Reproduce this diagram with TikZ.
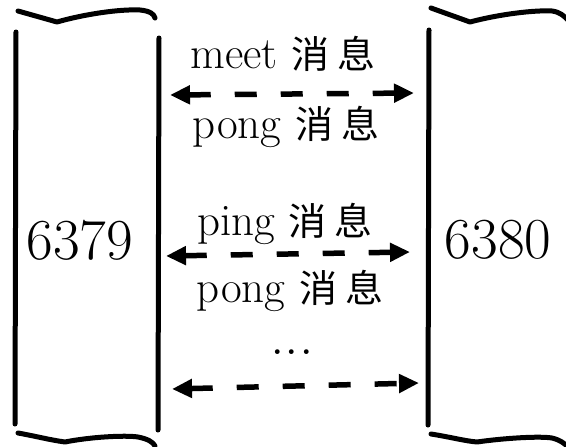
\documentclass[tikz,border=0pt]{standalone}
\usepackage{fontspec}
\newfontfamily\cjk{Noto Sans CJK SC}
\usetikzlibrary{arrows.meta}
\tikzset{
  hand/.style={line width=5pt, line cap=round, line join=round},
  msg/.style={font=\fontsize{45}{47}\selectfont, anchor=base, inner sep=0pt},
  dotsty/.style={font=\fontsize{58}{60}\selectfont, anchor=base, inner sep=0pt},
  num/.style={font=\fontsize{58}{60}\selectfont, inner sep=0pt},
  darr/.style={line width=5.5pt, dash pattern=on 22pt off 24pt,
    {Triangle[length=20pt,width=18pt]}-{Triangle[length=20pt,width=18pt]}},
}
\newcommand{\xx}{{\cjk\fontsize{38}{40}\selectfont 消\hspace{8pt}息}}
\begin{document}
\begin{tikzpicture}[x=1pt,y=-1pt]
\useasboundingbox (0,0) rectangle (566,447);
% left box
\draw[hand] (18,11) -- (57,22) .. controls (85,14) and (120,9) .. (140,10) .. controls (150,11) and (154,14) .. (155,18);
\draw[hand] (16,32) -- (15,424);
\draw[hand] (159,38) -- (158,430);
\draw[hand] (18,433) .. controls (35,436) and (50,440) .. (65,442) .. controls (90,437) and (125,435) .. (138,437) .. controls (148,439) and (153,442) .. (155,446);
% right box
\draw[hand] (431,8) -- (470,22) .. controls (500,14) and (535,10) .. (552,11) .. controls (560,12) and (564,16) .. (568,20);
\draw[hand] (429,30) -- (428,425);
\draw[hand] (431,434) .. controls (450,437) and (465,441) .. (477,442) .. controls (505,438) and (540,436) .. (552,438) .. controls (560,440) and (564,443) .. (568,447);
% numbers
\node[num] (a) at (80,240) {6379};
\node[num] (b) at (498,240) {6380};
% messages
\node[msg] (m1) at (283,68) {meet \xx};
\node[msg] (m2) at (286,138) {pong \xx};
\node[msg] (m3) at (285,235) {ping \xx};
\node[msg] (m4) at (290,302) {pong \xx};
\node[dotsty] (m5) at (292,354) {...};
% arrows
\coordinate (a1) at (170,95);
\coordinate (b1) at (414,93);
\coordinate (a2) at (166,256);
\coordinate (b2) at (410,252);
\coordinate (a3) at (172,389);
\coordinate (b3) at (419,383);
\draw[darr] (a1) -- (b1);
\draw[darr] (a2) -- (b2);
\draw[darr] (a3) -- (b3);
\end{tikzpicture}
\end{document}
